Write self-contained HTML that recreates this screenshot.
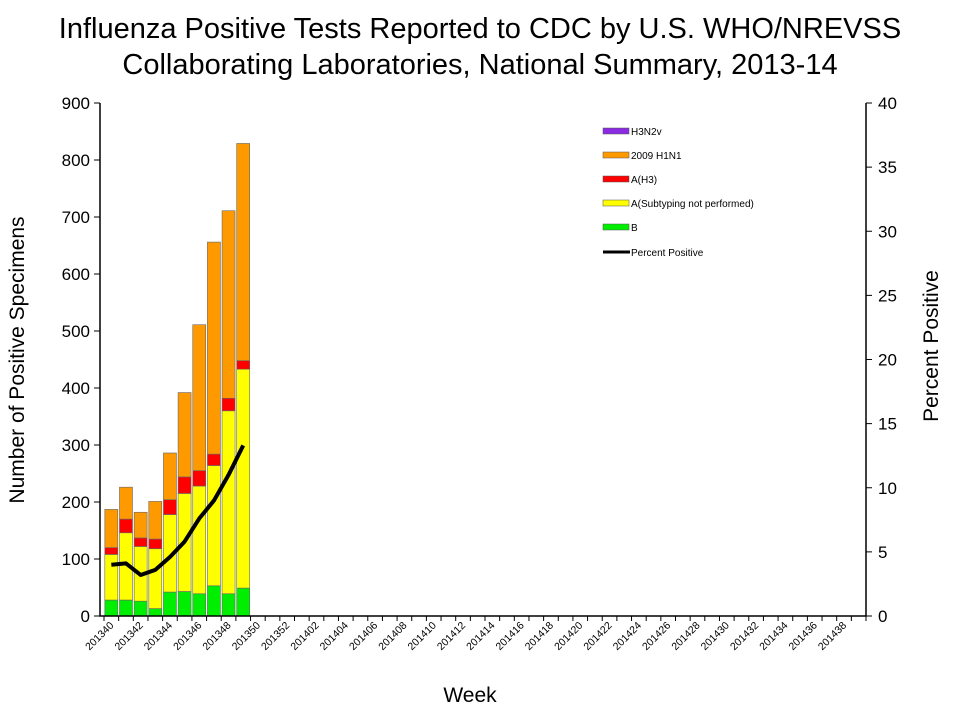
<!DOCTYPE html>
<html><head><meta charset="utf-8"><style>
body{margin:0;background:#fff;font-family:"Liberation Sans",Arial,sans-serif}
svg text{font-family:"Liberation Sans",Arial,sans-serif}
</style></head><body>
<svg id="c" width="960" height="720" xmlns="http://www.w3.org/2000/svg">
<text x="480" y="38" font-size="29" text-anchor="middle">Influenza Positive Tests Reported to CDC by U.S. WHO/NREVSS</text>
<text x="480" y="74" font-size="29" text-anchor="middle">Collaborating Laboratories, National Summary, 2013-14</text>
<text transform="translate(24,360) rotate(-90)" font-size="21" text-anchor="middle">Number of Positive Specimens</text>
<text transform="translate(938,346) rotate(-90)" font-size="21" text-anchor="middle">Percent Positive</text>
<text x="470" y="702" font-size="21" text-anchor="middle">Week</text>
<g id="g"></g>
</svg>
<script>
const weeks=[];for(let w=40;w<=52;w++)weeks.push("2013"+w);for(let w=1;w<=39;w++)weeks.push("2014"+(w<10?"0"+w:w));
const bVals=[28,28,26,13,42,43,39,53,39,49];
const aUnsub=[80,118,96,105,136,172,189,211,321,384];
const aH3=[12,24,15,17,26,29,27,20,22,15];
const h1n1=[67,56,45,66,82,148,256,372,329,381];
const h3n2v=[0,0,0,0,0,0,0,0,0,0];
const pctPos=[4.0,4.1,3.2,3.6,4.6,5.8,7.6,9.0,11.0,13.3];
const yTicks=[0,100,200,300,400,500,600,700,800,900];
const y2Ticks=[0,5,10,15,20,25,30,35,40];
const L=100,R=866,T=103,B=616,NS="http://www.w3.org/2000/svg";
const OFF=4;
const step=(R-L-OFF)/weeks.length;
const y=v=>B-(v/900)*(B-T), y2=v=>B-(v/40)*(B-T), xc=i=>L+OFF+step*(i+0.5);
const g=document.getElementById('g');
function mk(t,a){const e=document.createElementNS(NS,t);for(const k in a)e.setAttribute(k,a[k]);g.appendChild(e);return e;}
const series=[[bVals,'#00ee00','b'],[aUnsub,'#ffff00','a-unsubtyped'],[aH3,'#ff0000','a-h3'],[h1n1,'#ff9900','h1n1-2009'],[h3n2v,'#8a2be2','h3n2v']];
for(let i=0;i<bVals.length;i++){let c=0;for(const [arr,col,nm] of series){if(!arr[i]){continue;}const r=mk('rect',{x:xc(i)-6.5,y:y(c+arr[i]),width:13,height:y(c)-y(c+arr[i]),fill:col,stroke:'#666','stroke-width':0.6});

c+=arr[i];}}
let d=pctPos.map((p,i)=>(i?'L':'M')+xc(i)+','+y2(p)).join(' ');
const ln=mk('path',{d:d,fill:'none',stroke:'#000','stroke-width':4,'stroke-linejoin':'round'});


const ax=mk('path',{d:`M${L},${T}V${B}H${R}V${T}`,fill:'none',stroke:'#000','stroke-width':1.5});


yTicks.forEach(v=>{mk('line',{x1:L-6,x2:L,y1:y(v),y2:y(v),stroke:'#000'});const t=mk('text',{x:L-10,y:y(v)+6,'font-size':17,'text-anchor':'end'});t.textContent=v;

});
y2Ticks.forEach(v=>{mk('line',{x1:R,x2:R+6,y1:y2(v),y2:y2(v),stroke:'#000'});const t=mk('text',{x:R+12,y:y2(v)+6,'font-size':17});t.textContent=v;

});
for(let i=0;i<=weeks.length;i++)mk('line',{x1:L+OFF+step*i,x2:L+OFF+step*i,y1:B,y2:B+5,stroke:'#000'});
weeks.forEach((w,i)=>{if(i%2)return;const t=mk('text',{transform:`translate(${xc(i)+3},${B+10}) rotate(-45)`,'font-size':10.5,'text-anchor':'end'});t.textContent=w;

});
const leg=[['#8a2be2','H3N2v'],['#ff9900','2009 H1N1'],['#ff0000','A(H3)'],['#ffff00','A(Subtyping not performed)'],['#00ee00','B']];
leg.forEach(([c,l],i)=>{const yy=131+i*24;mk('rect',{x:603,y:yy-3,width:26,height:6,fill:c,stroke:'#555','stroke-width':0.5});const t=mk('text',{x:631,y:yy+4,'font-size':10});t.textContent=l;

});
mk('line',{x1:603,x2:630,y1:252,y2:252,stroke:'#000','stroke-width':3});
const lt=mk('text',{x:631,y:256,'font-size':10});lt.textContent='Percent Positive';


</script>
</body></html>
